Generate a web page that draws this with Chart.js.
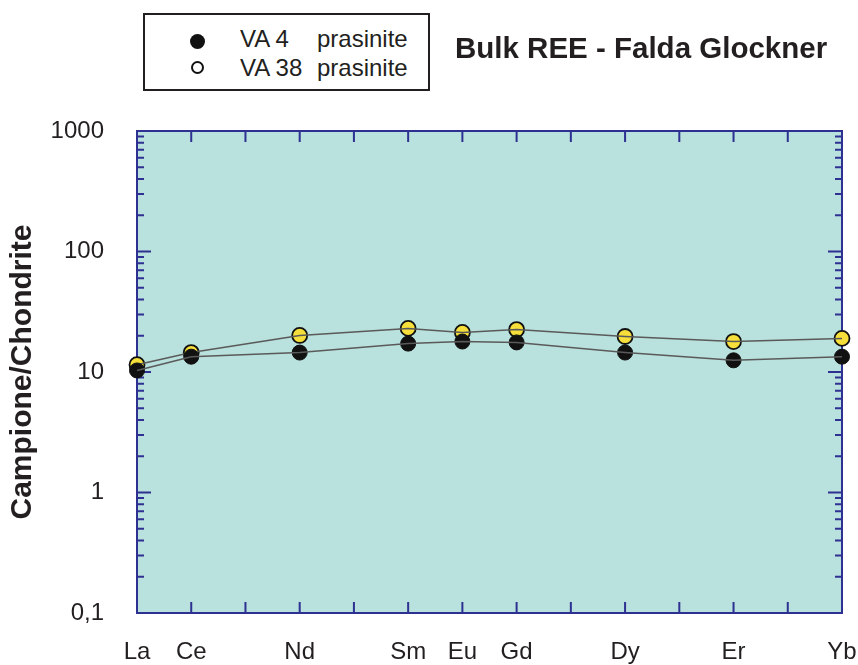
<!DOCTYPE html>
<html>
<head>
<meta charset="utf-8">
<script src="https://cdn.jsdelivr.net/npm/chart.js@4/dist/chart.umd.min.js"></script>
<style>
  html, body { margin: 0; padding: 0; background: #fff; }
  #wrap { position: relative; width: 858px; height: 665px; font-family: "Liberation Sans", Arial, sans-serif; color: #231f20; }
  #chart { position: absolute; left: 0; top: 0; }
  #legend { position: absolute; left: 143px; top: 13px; width: 283px; height: 74px; border: 2px solid #231f20; background: #fff; }
  .row { position: absolute; left: 0; height: 26px; font-size: 24px; line-height: 26px; }
  .dot { position: absolute; left: 45px; width: 15px; height: 15px; border-radius: 50%; box-sizing: border-box; }
  .name { position: absolute; left: 95px; white-space: nowrap; }
  .rock { position: absolute; left: 172px; white-space: nowrap; }
  #title { position: absolute; left: 455px; top: 31px; font-size: 29.5px; font-weight: bold; white-space: nowrap; }
</style>
</head>
<body>
<div id="wrap">
  <canvas id="chart" width="858" height="665"></canvas>
  <div id="legend">
    <div class="row" style="top:11px"><span class="dot" style="top:8px;background:#111"></span><span class="name">VA 4</span><span class="rock">prasinite</span></div>
    <div class="row" style="top:40px"><span class="dot" style="top:6px;left:46px;width:13px;height:13px;border:2px solid #111"></span><span class="name">VA 38</span><span class="rock">prasinite</span></div>
  </div>
  <div id="title">Bulk REE - Falda Glockner</div>
</div>
<script>
// REE sequence (x positions), only some analysed
const elements = ['La', 'Ce', 'Pr', 'Nd', 'Pm', 'Sm', 'Eu', 'Gd', 'Tb', 'Dy', 'Ho', 'Er', 'Tm', 'Yb'];
const analysed = ['La', 'Ce', 'Nd', 'Sm', 'Eu', 'Gd', 'Dy', 'Er', 'Yb'];

// sample / chondrite
const va4 = [10.3, 13.4, 14.5, 17.2, 17.9, 17.6, 14.5, 12.5, 13.4];
const va38 = [11.5, 14.5, 20.1, 23.0, 21.3, 22.5, 19.7, 17.9, 19.0];

const yTicks = [0.1, 1, 10, 100, 1000];
const yTickLabels = ['0,1', '1', '10', '100', '1000'];

const FONT = '"Liberation Sans", Arial, sans-serif';
const AXIS_BLUE = '#2e3192';

function toPoints(vals) {
  return analysed.map((el, i) => ({ x: el, y: vals[i] }));
}

// background, frame and inward ticks
const framePlugin = {
  id: 'frame',
  beforeDraw(chart) {
    const a = chart.chartArea;
    const ctx = chart.ctx;
    ctx.save();
    ctx.fillStyle = '#b9e1dd';
    ctx.fillRect(a.left, a.top, a.right - a.left, a.bottom - a.top);
    ctx.restore();
  },
  beforeDatasetsDraw(chart) {
    const a = chart.chartArea;
    const ctx = chart.ctx;
    const xs = chart.scales.x;
    const ys = chart.scales.y;
    ctx.save();
    ctx.strokeStyle = AXIS_BLUE;
    ctx.lineWidth = 2;
    ctx.beginPath();
    elements.forEach((el, i) => {
      const px = xs.getPixelForValue(i);
      ctx.moveTo(px, a.top);
      ctx.lineTo(px, a.top + 11);
      ctx.moveTo(px, a.bottom);
      ctx.lineTo(px, a.bottom - 11);
    });
    for (let k = -1; k <= 3; k++) {
      for (let m = 1; m <= 9; m++) {
        const v = m * Math.pow(10, k);
        if (v < 0.1 || v > 1000) continue;
        const py = ys.getPixelForValue(v);
        const len = m === 1 ? 14 : 7;
        ctx.moveTo(a.left, py);
        ctx.lineTo(a.left + len, py);
        ctx.moveTo(a.right, py);
        ctx.lineTo(a.right - len, py);
      }
    }
    ctx.stroke();
    ctx.strokeRect(a.left, a.top, a.right - a.left, a.bottom - a.top);
    ctx.restore();
  }
};

const ctx = document.getElementById('chart').getContext('2d');
new Chart(ctx, {
  type: 'line',
  data: {
    labels: elements,
    datasets: [
      {
        label: 'VA 4 line',
        data: toPoints(va4),
        borderColor: '#5a5a5a',
        borderWidth: 1.5,
        pointRadius: 0,
        fill: false,
        order: 0
      },
      {
        label: 'VA 4 prasinite',
        data: toPoints(va4),
        showLine: false,
        pointRadius: 7.5,
        pointBackgroundColor: '#111',
        pointBorderColor: '#111',
        pointBorderWidth: 1,
        order: 1
      },
      {
        label: 'VA 38 line',
        data: toPoints(va38),
        borderColor: '#5a5a5a',
        borderWidth: 1.5,
        pointRadius: 0,
        fill: false,
        order: 2
      },
      {
        label: 'VA 38 prasinite',
        data: toPoints(va38),
        showLine: false,
        pointRadius: 7.5,
        pointBackgroundColor: '#f6df3a',
        pointBorderColor: '#111',
        pointBorderWidth: 1.8,
        order: 3
      }
    ]
  },
  options: {
    responsive: false,
    animation: false,
    clip: false,
    layout: { padding: { top: 131, right: 16, left: 0, bottom: 0 } },
    plugins: {
      legend: { display: false },
      tooltip: { enabled: false }
    },
    scales: {
      x: {
        type: 'category',
        offset: false,
        grid: { display: false, drawTicks: false },
        border: { display: false },
        ticks: {
          autoSkip: false,
          maxRotation: 0,
          padding: 25,
          color: '#231f20',
          font: { family: FONT, size: 24 },
          callback: function (value) {
            const name = elements[value];
            return analysed.includes(name) ? name : '';
          }
        },
        afterFit: function (scale) {
          scale.height = 52;
          scale.paddingLeft = 0;
          scale.paddingRight = 0;
        }
      },
      y: {
        type: 'logarithmic',
        min: 0.1,
        max: 1000,
        grid: { display: false, drawTicks: false },
        border: { display: false },
        afterBuildTicks: function (scale) {
          scale.ticks = yTicks.map(v => ({ value: v }));
        },
        ticks: {
          padding: 33,
          color: '#231f20',
          font: { family: FONT, size: 24 },
          callback: function (value) {
            const i = yTicks.indexOf(value);
            return i >= 0 ? yTickLabels[i] : '';
          }
        },
        title: {
          display: true,
          text: 'Campione/Chondrite',
          color: '#231f20',
          font: { family: FONT, size: 30, weight: 'bold' },
          padding: { top: 5, bottom: 0 }
        },
        afterFit: function (scale) { scale.width = 137; }
      }
    }
  },
  plugins: [framePlugin]
});
</script>
</body>
</html>
